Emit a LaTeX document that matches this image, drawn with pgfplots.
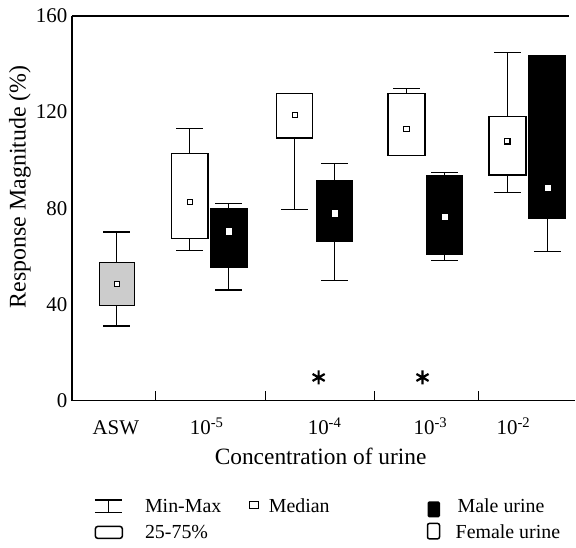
\documentclass[border=0pt]{standalone}
\usepackage{fontspec}
\setmainfont{Liberation Serif}
\usepackage{pgfplots}
\pgfplotsset{compat=1.18}
\usepgfplotslibrary{statistics}
\pgfplotsset{
  fbx/.style={draw=black, line width=1.2bp, boxplot/draw direction=y, boxplot/every box/.style={fill=white}, boxplot/every median/.style={draw=none}},
  mbx/.style={draw=black, line width=1.2bp, boxplot/draw direction=y, boxplot/every box/.style={fill=black}, boxplot/every median/.style={draw=none}},
  gbx/.style={draw=black, line width=1.2bp, boxplot/draw direction=y, boxplot/every box/.style={fill=black!20}, boxplot/every median/.style={draw=none}},
}
\begin{document}
\begin{tikzpicture}
\begin{axis}[
  scale only axis, width=504bp, height=385bp,
  xmin=0, xmax=504, ymin=0, ymax=160,
  axis x line*=bottom, axis y line*=left,
  axis line style={-, line width=1.3bp},
  ytick={0,40,80,120,160},
  ytick style={draw=none},
  yticklabel style={font=\fontsize{21}{25}\selectfont, inner sep=0pt, xshift=-4.5bp},
  /pgf/number format/assume math mode=true,
  xtick={84,194,303,407}, xticklabels={,,,,},
  xtick style={line width=1.2bp, black},
  tick align=inside,
  major tick length=10bp,
  extra x ticks={44,135,253,359,442},
  extra x tick labels={ASW,10\textsuperscript{-5},10\textsuperscript{-4},10\textsuperscript{-3},10\textsuperscript{-2}},
  extra x tick style={major tick length=0pt, xticklabel style={font=\fontsize{21}{25}\selectfont, anchor=base, yshift=-34bp}},
  xlabel={Concentration of urine},
  xlabel style={font=\fontsize{23.5}{28}\selectfont, at={(axis description cs:0.494,-0.1662)}, anchor=base},
  ylabel={Response Magnitude (\%)},
  ylabel style={font=\fontsize{24}{28}\selectfont, at={(axis description cs:-0.1032,0.556)}, anchor=center},
  clip=false,
]
% ASW
\addplot[gbx, boxplot prepared={draw position=45, lower whisker=31.0, lower quartile=39.5, median=48.6, upper quartile=57.3, upper whisker=70.1, box extend=35, whisker extend=27}] coordinates {};
% 10^-5
\addplot[fbx, boxplot prepared={draw position=118, lower whisker=62.3, lower quartile=67.3, median=82.7, upper quartile=102.8, upper whisker=113.3, box extend=36.5, whisker extend=27}] coordinates {};
\addplot[mbx, boxplot prepared={draw position=157, lower whisker=46.0, lower quartile=55.6, median=70.5, upper quartile=79.7, upper whisker=82.0, box extend=37, whisker extend=27}] coordinates {};
% 10^-4
\addplot[fbx, boxplot prepared={draw position=223, lower whisker=79.4, lower quartile=109.2, median=118.9, upper quartile=127.9, upper whisker=127.9, box extend=36.5, whisker extend=27}] coordinates {};
\addplot[mbx, boxplot prepared={draw position=263, lower whisker=49.9, lower quartile=66.4, median=78.0, upper quartile=91.4, upper whisker=98.5, box extend=36.5, whisker extend=27}] coordinates {};
% 10^-3
\addplot[fbx, boxplot prepared={draw position=335, lower whisker=102.1, lower quartile=102.1, median=113.0, upper quartile=127.7, upper whisker=129.7, box extend=37, whisker extend=27}] coordinates {};
\addplot[mbx, boxplot prepared={draw position=373, lower whisker=58.2, lower quartile=60.7, median=76.5, upper quartile=93.6, upper whisker=94.8, box extend=36.5, whisker extend=27}] coordinates {};
% 10^-2
\addplot[fbx, boxplot prepared={draw position=436, lower whisker=86.4, lower quartile=93.8, median=107.8, upper quartile=118.2, upper whisker=144.8, box extend=37, whisker extend=27}] coordinates {};
\addplot[mbx, boxplot prepared={draw position=476, lower whisker=62.1, lower quartile=75.8, median=88.7, upper quartile=143.4, upper whisker=143.4, box extend=37, whisker extend=27}] coordinates {};
% medians
\addplot[only marks, mark=square*, mark size=2.6bp, mark options={fill=white, draw=black, line width=1.1bp}] coordinates {(45,48.6)(118,82.7)(223,118.9)(335,113.0)(436,107.8)};
\addplot[only marks, mark=square*, mark size=2.7bp, mark options={fill=white, draw=white, line width=0.2bp}] coordinates {(157,70.5)(263,78.0)(373,76.5)(476,88.7)};
% significance
\addplot[only marks, mark=asterisk, mark size=7bp, mark options={line width=2.2bp, draw=black}] coordinates {(247,9.6)(351,9.6)};
\draw[line width=1.3bp] (rel axis cs:0,1) -- (rel axis cs:0.988,1);
\coordinate (TL) at (rel axis cs:0,1);
\end{axis}
\begin{scope}[shift={(TL)}, xshift=-72bp, yshift=16bp, x=1bp, y=-1bp]
\path[use as bounding box] (0,0) rectangle (576,548);
\begin{scope}[line width=1.2bp]
\draw (95,500.5) -- (122,500.5) (108.5,500.5) -- (108.5,513) (95,513) -- (122,513);
\draw[fill=white] (250,502) rectangle (258.5,509);
\draw[line width=1.5bp, rounded corners=2.5bp] (95.5,527) rectangle (122.5,539);
\fill[black, rounded corners=1.5bp] (428,502) rectangle (440.5,518);
\draw[line width=1.5bp, fill=white, rounded corners=2bp] (428,524) rectangle (440,539.5);
\end{scope}
\begin{scope}[font=\fontsize{20}{24}\selectfont]
\node[anchor=base west, inner sep=0pt] at (145,513.3) {Min-Max};
\node[anchor=base west, inner sep=0pt] at (269,513.3) {Median};
\node[anchor=base west, inner sep=0pt] at (145,539.3) {25-75\%};
\node[anchor=base west, inner sep=0pt] at (458,513.3) {Male urine};
\node[anchor=base west, inner sep=0pt] at (456,539.3) {Female urine};
\end{scope}
\end{scope}
\end{tikzpicture}
\end{document}
